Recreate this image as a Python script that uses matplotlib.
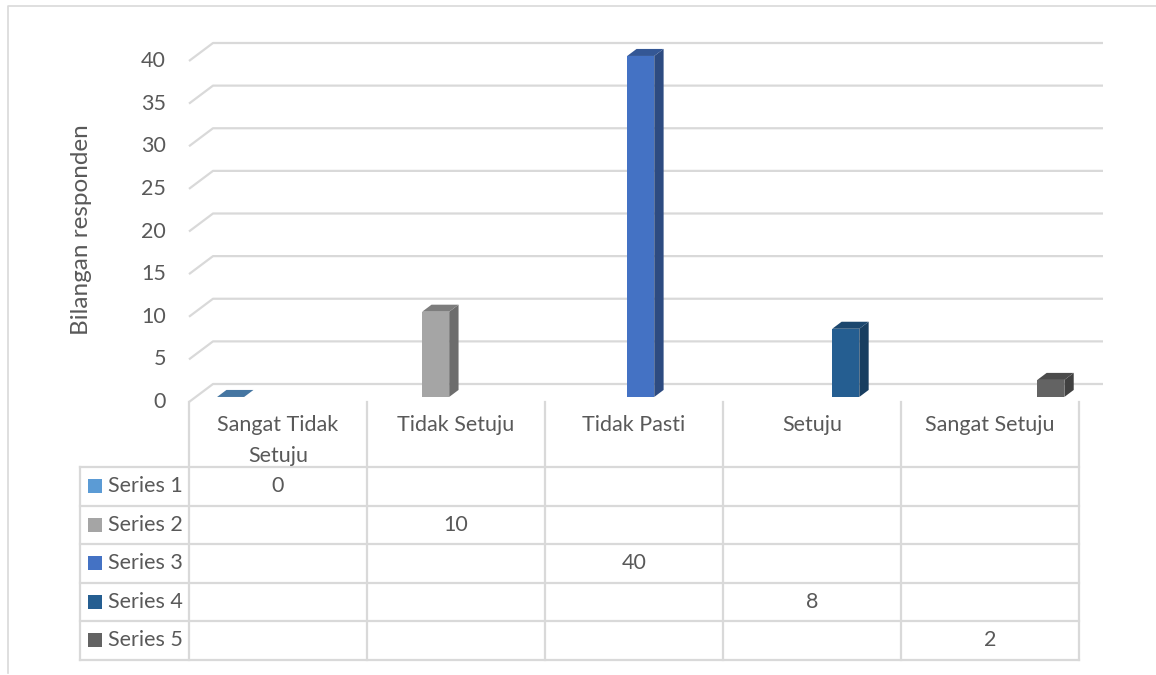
import matplotlib
matplotlib.use("Agg")
import matplotlib.pyplot as plt
from matplotlib.patches import Polygon, Rectangle
from matplotlib.transforms import blended_transform_factory

plt.rcParams["font.family"] = ["Lato", "DejaVu Sans"]

# data
categories = ["Sangat Tidak\nSetuju", "Tidak Setuju", "Tidak Pasti", "Setuju", "Sangat Setuju"]
series_names = ["Series 1", "Series 2", "Series 3", "Series 4", "Series 5"]
series_1 = [0, None, None, None, None]
series_2 = [None, 10, None, None, None]
series_3 = [None, None, 40, None, None]
series_4 = [None, None, None, 8, None]
series_5 = [None, None, None, None, 2]
series_values = [series_1, series_2, series_3, series_4, series_5]
series_colors = ["#5B9BD5", "#A5A5A5", "#4472C4", "#255E91", "#636363"]
y_ticks = [0, 5, 10, 15, 20, 25, 30, 35, 40]
y_label = "Bilangan responden"

GRID = "#D9D9D9"
TEXT = "#595959"
FS = 15.5

W, H = 1156, 675
fig = plt.figure(figsize=(W / 100, H / 100), dpi=100)

# canvas in pixels for frame / table
canvas = fig.add_axes([0, 0, 1, 1])
canvas.set_xlim(0, W)
canvas.set_ylim(H, 0)
canvas.axis("off")

# back wall of the 3d plot: x in categories, y in values
ax = fig.add_axes([213 / W, 1 - 384 / H, 890 / W, 341 / H])
ax.set_xlim(0, len(categories))
ax.set_ylim(0, 40)
ax.axis("off")

PX_CAT = 890 / len(categories)   # px per category
PX_VAL = 341 / 40                # px per unit
DX = 24 / PX_CAT                 # floor depth shift in x
DY = 18 / PX_VAL                 # floor depth shift in y


def proj(x, v, d):
    # d = 0 back wall, 1 front edge
    return (x - DX * d, v - DY * d)


def shade(c, f):
    r, g, b = matplotlib.colors.to_rgb(c)
    return (r * f, g * f, b * f)


# gridlines with the slanted side wall
for t in y_ticks:
    fx, fy = proj(0, t, 1)
    ax.plot([fx, 0, len(categories)], [fy, t, t], color=GRID, lw=1.6,
            clip_on=False, zorder=1, solid_capstyle="butt")
    ax.text(fx - 23 / PX_CAT, fy, str(t), ha="right", va="center",
            fontsize=FS, color=TEXT, clip_on=False)

# 3d columns
bar_w = 0.152
d_front, d_back = 0.72, 0.33
for k, vals in enumerate(series_values):
    col = series_colors[k]
    for i, v in enumerate(vals):
        if v is None:
            continue
        x0 = i + 0.12 + k * bar_w
        x1 = x0 + bar_w
        top = [proj(x0, v, d_front), proj(x1, v, d_front),
               proj(x1, v, d_back), proj(x0, v, d_back)]
        if v > 0:
            front = [proj(x0, 0, d_front), proj(x1, 0, d_front),
                     proj(x1, v, d_front), proj(x0, v, d_front)]
            side = [proj(x1, 0, d_front), proj(x1, 0, d_back),
                    proj(x1, v, d_back), proj(x1, v, d_front)]
            ax.add_patch(Polygon(side, closed=True, fc=shade(col, 0.66),
                                 ec="none", clip_on=False, zorder=3))
            ax.add_patch(Polygon(front, closed=True, fc=col,
                                 ec="none", clip_on=False, zorder=3))
        ax.add_patch(Polygon(top, closed=True, fc=shade(col, 0.76),
                             ec="none", clip_on=False, zorder=3))

# data table (x follows the front edge of the floor, y in pixels)
tr = blended_transform_factory(ax.transData, canvas.transData)
head_top = 402
row_top = 467
row_h = 38.5
n_rows = len(series_names)
table_bottom = row_top + row_h * n_rows
col_edges = [i - DX for i in range(len(categories) + 1)]
left_edge = col_edges[0] - 109 / PX_CAT

for xe in col_edges:
    canvas.plot([xe, xe], [head_top, table_bottom], color=GRID, lw=1.6,
                transform=tr, clip_on=False)
canvas.plot([left_edge, left_edge], [row_top, table_bottom], color=GRID,
            lw=1.6, transform=tr, clip_on=False)
for r in range(n_rows + 1):
    yy = row_top + r * row_h
    canvas.plot([left_edge, col_edges[-1]], [yy, yy], color=GRID, lw=1.6,
                transform=tr, clip_on=False)

for i, cat in enumerate(categories):
    canvas.text(i + 0.5 - DX, 415, cat, transform=tr, ha="center", va="top",
                fontsize=FS, color=TEXT, linespacing=1.67)

for k, name in enumerate(series_names):
    yc = row_top + (k + 0.5) * row_h
    canvas.add_patch(Rectangle((88, yc - 7), 14, 14, fc=series_colors[k],
                               ec="none"))
    canvas.text(108, yc, name, ha="left", va="center", fontsize=FS,
                color=TEXT)
    for i, v in enumerate(series_values[k]):
        if v is None:
            continue
        canvas.text(i + 0.5 - DX, yc, str(v), transform=tr, ha="center",
                    va="center", fontsize=FS, color=TEXT)

canvas.text(82, 230, y_label, rotation=90, ha="center", va="center",
            fontsize=17.5, color=TEXT)

# chart frame
canvas.plot([7.5, 7.5, W], [673, 5.5, 5.5], color=GRID, lw=1.2)

fig.savefig("out.png", dpi=100)
